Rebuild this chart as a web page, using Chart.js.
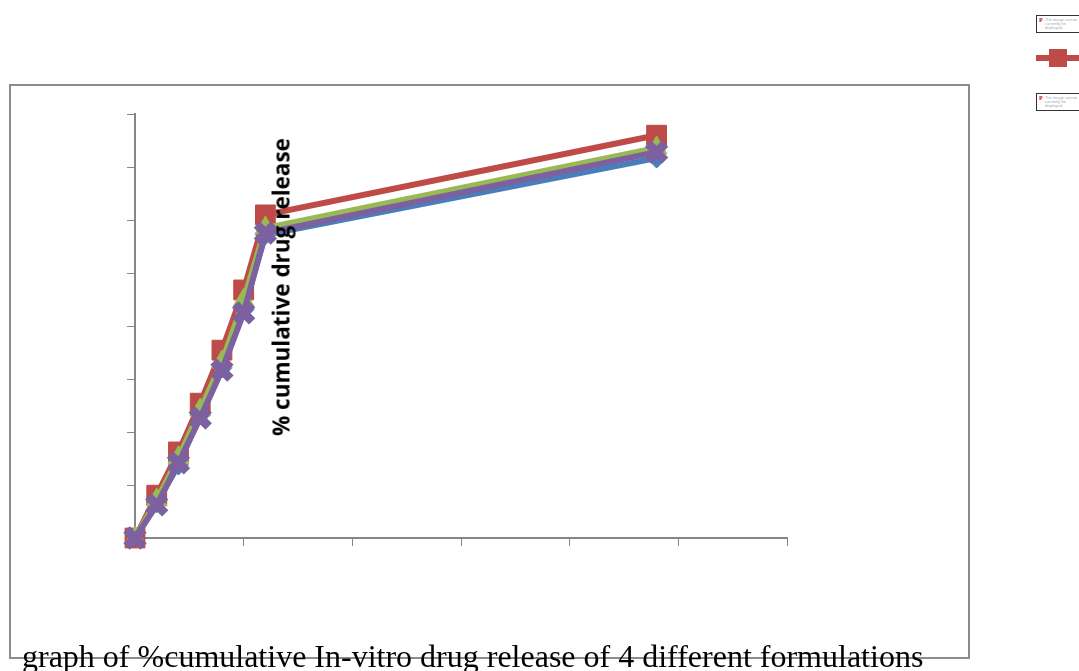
<!DOCTYPE html>
<html>
<head>
<meta charset="utf-8">
<script src="https://cdn.jsdelivr.net/npm/chart.js@4.4.1/dist/chart.umd.min.js"></script>
<style>
  html, body { margin: 0; padding: 0; background: #fff; overflow: hidden; }
  #wrap { position: relative; width: 1079px; height: 671px; }
  #frame { position: absolute; left: 9px; top: 84px; width: 961px; height: 575px; border: 2px solid #8c8c8c; box-sizing: border-box; }
  canvas { position: absolute; left: 0; top: 0; }
  #ytitle { position: absolute; left: 281px; top: 287px; transform: translate(-50%, -50%) rotate(-90deg);
    font: bold 22.5px "Open Sans", "DejaVu Sans", sans-serif; white-space: nowrap; color: #000; }
  #title { position: absolute; left: 22px; top: 638px; font: 32px "Liberation Serif", "Times New Roman", serif; white-space: nowrap; color: #000; }
  .imgbox { position: absolute; left: 1036px; width: 50px; height: 18px; border: 1px solid #333; box-sizing: border-box; background: #fff; }
  .imgbox span { position: absolute; left: 2px; top: 1px; font: bold 6px serif; color: #c00; }
  .imgbox i { position: absolute; left: 8px; top: 2px; font: 4px sans-serif; color: #aaa; font-style: normal; line-height: 4px; }
  #legline { position: absolute; left: 1036px; top: 55px; width: 50px; height: 6px; background: #be4b48; }
  #legmark { position: absolute; left: 1049px; top: 49px; width: 18px; height: 18px; background: #be4b48; }
</style>
</head>
<body>
<div id="wrap">
  <div id="frame"></div>
  <canvas id="chart" width="1079" height="671"></canvas>
  <div id="ytitle">% cumulative drug release</div>
  <div id="title">graph of %cumulative In-vitro drug release of 4 different formulations</div>
  <div class="imgbox" style="top:15px"><span>P</span><i>The image cannot<br>currently be displayed.</i></div>
  <div id="legline"></div><div id="legmark"></div>
  <div class="imgbox" style="top:93px"><span>P</span><i>The image cannot<br>currently be displayed.</i></div>
</div>
<script>
// time points (hours)
const timePoints = [0, 1, 2, 3, 4, 5, 6, 24];

// % cumulative drug release for each formulation
const formulation1 = [0, 8.3, 17.2, 29.0, 40.1, 53.8, 71.5, 89.6];
const formulation2 = [0, 10.1, 20.3, 31.8, 44.3, 58.5, 76.2, 95.0];
const formulation3 = [0, 9.0, 18.9, 30.2, 41.5, 56.1, 73.1, 92.0];
const formulation4 = [0, 7.8, 17.7, 28.3, 39.6, 53.1, 71.9, 91.0];

const seriesNames = ["F1", "F2", "F3", "F4"];

function toPoints(values) {
  return timePoints.map((t, i) => ({ x: t, y: values[i] }));
}

const axisColor = "#868686";

const ctx = document.getElementById("chart").getContext("2d");
new Chart(ctx, {
  type: "line",
  data: {
    datasets: [
      {
        label: seriesNames[0],
        data: toPoints(formulation1),
        borderColor: "#4a7ebb",
        backgroundColor: "#4a7ebb",
        pointStyle: "rectRot",
        pointRadius: 10,
        order: 4,
      },
      {
        label: seriesNames[1],
        data: toPoints(formulation2),
        borderColor: "#be4b48",
        backgroundColor: "#be4b48",
        pointStyle: "rect",
        pointRadius: 14,
        order: 3,
      },
      {
        label: seriesNames[2],
        data: toPoints(formulation3),
        borderColor: "#98b954",
        backgroundColor: "#98b954",
        pointStyle: "triangle",
        pointRadius: 12,
        order: 2,
      },
      {
        label: seriesNames[3],
        data: toPoints(formulation4),
        borderColor: "#7d60a0",
        backgroundColor: "#7d60a0",
        pointStyle: "crossRot",
        pointRadius: 12,
        pointBorderWidth: 9,
        order: 1,
      },
    ],
  },
  options: {
    responsive: false,
    animation: false,
    clip: false,
    elements: {
      line: { borderWidth: 6, tension: 0 },
      point: { borderWidth: 1 },
    },
    layout: {
      padding: { left: 127, right: 292, top: 114, bottom: 125 },
    },
    plugins: {
      legend: { display: false },
      tooltip: { enabled: false },
    },
    scales: {
      x: {
        type: "linear",
        min: 0,
        max: 30,
        ticks: { display: false, stepSize: 5 },
        grid: { drawOnChartArea: false, tickLength: 8, color: axisColor },
        border: { color: axisColor, width: 2 },
      },
      y: {
        min: 0,
        max: 100,
        ticks: { display: false, stepSize: 12.5 },
        grid: { drawOnChartArea: false, tickLength: 8, color: axisColor },
        border: { color: axisColor, width: 2 },
      },
    },
  },
});
</script>
</body>
</html>
